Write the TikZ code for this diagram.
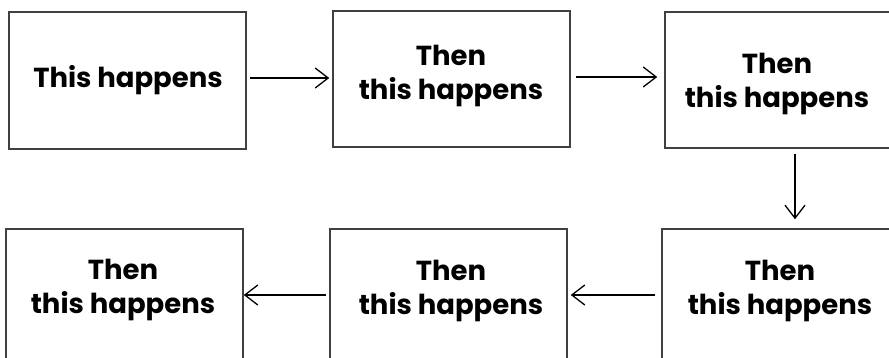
\documentclass[tikz,border=0pt]{standalone}
\usepackage{fontspec}
\setmainfont{Poppins}[BoldFont={* Bold}]
\usetikzlibrary{arrows.meta}
\begin{document}
\begin{tikzpicture}[x=1pt,y=-1pt,
  box/.style={draw=black!75, line width=1.5pt, rectangle, inner sep=0pt},
  txt/.style={align=center, font=\fontsize{27.5}{34}\selectfont\bfseries, inner sep=0pt},
  conn/.style={line width=1.5pt, -{Straight Barb[length=13pt,width=20pt,line width=1.3pt]}}]
\useasboundingbox (0,0) rectangle (889,358);
\clip (0,0) rectangle (889,358);
\fill[white] (0,0) rectangle (889,358);
% top row
\node[box, minimum width=237pt, minimum height=137pt] (b1) at (127.5,80.5) {};
\node[box, minimum width=237pt, minimum height=136pt] (b2) at (451.5,79) {};
\node[box, minimum width=227pt, minimum height=136pt] (b3) at (778.5,80) {};
% bottom row
\node[box, minimum width=232pt, minimum height=137pt] (b6) at (778,297.5) {};
\node[box, minimum width=237pt, minimum height=137pt] (b5) at (448.5,297.5) {};
\node[box, minimum width=237pt, minimum height=137pt] (b4) at (124.5,297.5) {};
% texts
\node[txt] (t1) at (128,80) {This happens};
\node[txt] (t2) at (451,76) {Then\\this happens};
\node[txt] (t3) at (777,84) {Then\\this happens};
\node[txt] (t6) at (780,291) {Then\\this happens};
\node[txt] (t5) at (451,291) {Then\\this happens};
\node[txt] (t4) at (123,290) {Then\\this happens};
% connectors
\draw[conn] ([xshift=3pt]b1.east |- 0,78) -- ([xshift=-3pt]b2.west |- 0,78);
\draw[conn] ([xshift=5pt]b2.east |- 0,77) -- ([xshift=-7pt]b3.west |- 0,77);
\draw[conn] ([yshift=-5pt]b3.south -| 795,0) -- ([yshift=9pt]b6.north -| 795,0);
\draw[conn] ([xshift=-6pt]b6.west |- 0,295) -- ([xshift=3pt]b5.east |- 0,295);
\draw[conn] ([xshift=-3pt]b5.west |- 0,295) -- ([xshift=0pt]b4.east |- 0,295);
\end{tikzpicture}
\end{document}
